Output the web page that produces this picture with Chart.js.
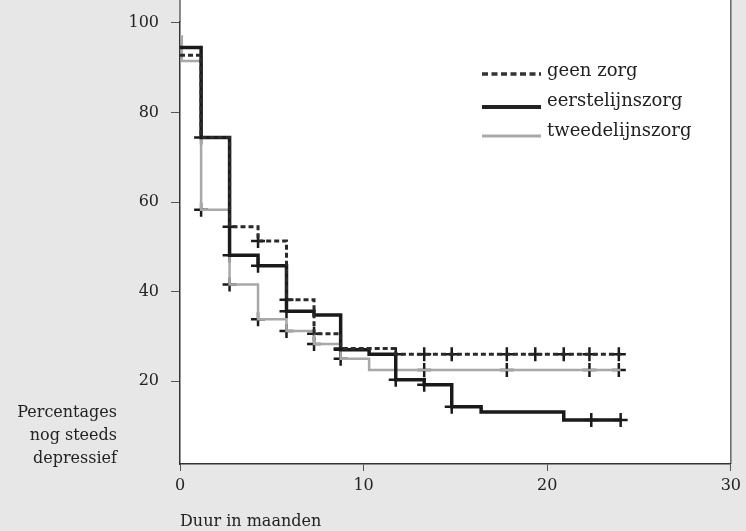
<!DOCTYPE html>
<html>
<head>
<meta charset="utf-8">
<script src="https://cdn.jsdelivr.net/npm/chart.js@4"></script>
<style>
  html, body { margin: 0; padding: 0; background: #e7e7e7; }
  #wrap { position: relative; width: 746px; height: 531px; }
</style>
</head>
<body>
<div id="wrap"><canvas id="km" width="746" height="531"></canvas></div>
<script>
// tick labels
const xTicks = [0, 10, 20, 30];
const yTicks = [20, 40, 60, 80, 100];

// series: [month, percentage] at each step
const geenMonths = [0, 1.15, 2.7, 4.25, 5.8, 7.3, 8.75, 11.75, 24];
const geenValues = [92.8, 74.4, 54.5, 51.3, 38.2, 30.6, 27.3, 26.0, 26.0];
const eersteMonths = [0, 1.15, 2.7, 4.25, 5.8, 7.3, 8.75, 10.3, 11.75, 13.3, 14.8, 16.4, 20.9, 24];
const eersteValues = [94.5, 74.4, 48.1, 45.8, 35.6, 34.8, 27.0, 26.0, 20.3, 19.2, 14.3, 13.1, 11.3, 11.3];
const tweedeMonths = [0, 0.1, 1.15, 2.7, 4.25, 5.8, 7.3, 8.75, 10.3, 24];
const tweedeValues = [97, 91.5, 58.3, 41.6, 33.8, 31.2, 28.3, 25.0, 22.5, 22.5];

// censored cases (+ marks)
const geenCensMonths = [2.7, 4.25, 5.8, 7.3, 8.75, 11.75, 13.3, 14.8, 17.8, 19.35, 20.9, 22.3, 23.9];
const geenCensValues = [54.5, 51.3, 38.2, 30.6, 27.3, 26, 26, 26, 26, 26, 26, 26, 26];
const eersteCensMonths = [1.15, 2.7, 4.25, 5.8, 8.75, 11.75, 13.3, 14.8, 22.4, 24];
const eersteCensValues = [74.4, 48.1, 45.8, 35.6, 27.0, 20.3, 19.2, 14.3, 11.3, 11.3];
const tweedeCensMonths = [1.15, 2.7, 4.25, 5.8, 7.3, 8.75, 13.3, 17.8, 22.3, 23.9];
const tweedeCensValues = [58.3, 41.6, 33.8, 31.2, 28.3, 25.0, 22.5, 22.5, 22.5, 22.5];

const legendLabels = ['geen zorg', 'eerstelijnszorg', 'tweedelijnszorg'];
const yTitle = ['Percentages', 'nog steeds', 'depressief'];
const xTitle = 'Duur in maanden';

const FONT = 'DejaVu Serif';

function pts(xs, ys) {
  return xs.map((x, i) => ({ x: x, y: ys[i] }));
}

function stepSet(label, xs, ys, color, width, dash) {
  return {
    type: 'line', label: label, data: pts(xs, ys), stepped: 'before',
    borderColor: color, borderWidth: width, borderDash: dash || [],
    pointRadius: 0, fill: false
  };
}

function censSet(xs, ys) {
  return {
    type: 'scatter', data: pts(xs, ys), pointStyle: 'cross',
    pointRadius: 7, borderColor: '#1a1a1a', borderWidth: 2.5
  };
}

// white plot area, running up to the top edge
const plotBg = {
  id: 'plotBg',
  beforeDraw(chart) {
    const { ctx, chartArea: a } = chart;
    ctx.save();
    ctx.fillStyle = '#ffffff';
    ctx.fillRect(a.left, 0, a.right - a.left, a.bottom);
    ctx.strokeStyle = '#666';
    ctx.lineWidth = 1.5;
    ctx.beginPath();
    ctx.moveTo(a.right, 0);
    ctx.lineTo(a.right, a.bottom);
    ctx.moveTo(a.left, 0);
    ctx.lineTo(a.left, a.top);
    ctx.stroke();
    ctx.restore();
  }
};

// legend and y title drawn by hand
const extras = {
  id: 'extras',
  afterDraw(chart) {
    const ctx = chart.ctx;
    ctx.save();
    const samples = [
      { color: '#333', width: 3.5, dash: [6, 3.5] },
      { color: '#222', width: 4, dash: [] },
      { color: '#aaa', width: 3, dash: [] }
    ];
    const textY = [71, 101, 131];
    const lineY = [74, 107, 136];
    samples.forEach((s, i) => {
      ctx.strokeStyle = s.color;
      ctx.lineWidth = s.width;
      ctx.setLineDash(s.dash);
      ctx.beginPath();
      ctx.moveTo(482, lineY[i]);
      ctx.lineTo(541, lineY[i]);
      ctx.stroke();
      ctx.setLineDash([]);
      ctx.fillStyle = '#222';
      ctx.font = '18px "' + FONT + '"';
      ctx.textAlign = 'left';
      ctx.textBaseline = 'middle';
      ctx.fillText(legendLabels[i], 547, textY[i]);
    });
    ctx.font = '16px "' + FONT + '"';
    ctx.textAlign = 'right';
    ctx.fillStyle = '#222';
    yTitle.forEach((t, i) => ctx.fillText(t, 117, 413 + i * 23));
    ctx.restore();
  }
};

new Chart(document.getElementById('km'), {
  data: {
    datasets: [
      stepSet(legendLabels[0], geenMonths, geenValues, '#2a2a2a', 3, [5, 3]),
      stepSet(legendLabels[1], eersteMonths, eersteValues, '#1a1a1a', 3.5),
      stepSet(legendLabels[2], tweedeMonths, tweedeValues, '#a8a8a8', 2.5),
      censSet(geenCensMonths, geenCensValues),
      censSet(eersteCensMonths, eersteCensValues),
      censSet(tweedeCensMonths, tweedeCensValues)
    ]
  },
  options: {
    responsive: false,
    animation: false,
    layout: { padding: { left: 0, right: 12, top: 0, bottom: 0 } },
    plugins: { legend: { display: false }, tooltip: { enabled: false } },
    scales: {
      x: {
        type: 'linear', min: 0, max: 30,
        afterBuildTicks: s => { s.ticks = xTicks.map(v => ({ value: v })); },
        afterFit: s => { s.height = 67; },
        grid: { drawOnChartArea: false, drawTicks: true, tickLength: 7, color: '#555' },
        border: { display: true, color: '#333', width: 1.5 },
        ticks: { color: '#222', padding: 5, font: { family: FONT, size: 16 } },
        title: {
          display: true, text: xTitle, align: 'start', color: '#222',
          padding: { top: 8, bottom: 0 }, font: { family: FONT, size: 16 }
        }
      },
      y: {
        type: 'linear', min: 1.5, max: 100.3,
        afterBuildTicks: s => { s.ticks = yTicks.map(v => ({ value: v })); },
        afterFit: s => { s.width = 180; },
        grid: { drawOnChartArea: false, drawTicks: true, tickLength: 9, color: '#555' },
        border: { display: true, color: '#333', width: 1.5 },
        ticks: { color: '#222', padding: 12, font: { family: FONT, size: 16 } }
      }
    }
  },
  plugins: [plotBg, extras]
});
</script>
</body>
</html>
